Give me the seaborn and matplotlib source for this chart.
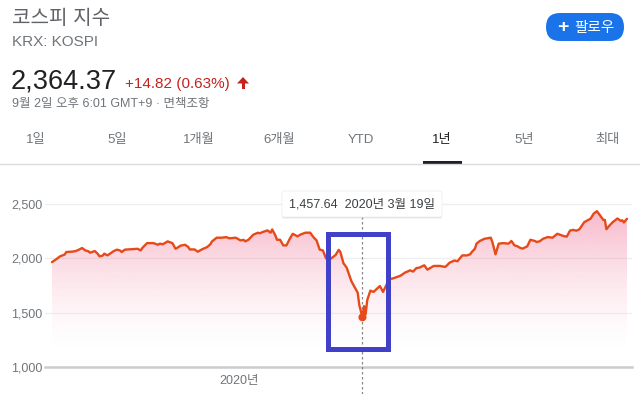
import numpy as np
import pandas as pd
import matplotlib
matplotlib.use("Agg")
import matplotlib.pyplot as plt
import matplotlib.dates as mdates
import seaborn as sns
from matplotlib.patches import FancyBboxPatch, Rectangle, Polygon

# ---------------- data ----------------
dates = [
    "2019-09-05", "2019-09-08", "2019-09-10", "2019-09-13", "2019-09-14", "2019-09-18",
    "2019-09-20", "2019-09-22", "2019-09-24", "2019-09-26", "2019-09-28", "2019-09-29",
    "2019-10-02", "2019-10-04", "2019-10-05", "2019-10-07", "2019-10-08", "2019-10-10",
    "2019-10-14", "2019-10-16", "2019-10-18", "2019-10-19", "2019-10-21", "2019-10-24",
    "2019-10-26", "2019-10-29", "2019-10-31", "2019-11-01", "2019-11-04", "2019-11-08",
    "2019-11-11", "2019-11-12", "2019-11-14", "2019-11-17", "2019-11-20", "2019-11-22",
    "2019-11-24", "2019-11-25", "2019-11-28", "2019-11-30", "2019-12-01", "2019-12-04",
    "2019-12-06", "2019-12-09", "2019-12-12", "2019-12-14", "2019-12-15", "2019-12-18",
    "2019-12-21", "2019-12-24", "2019-12-26", "2019-12-30", "2020-01-02", "2020-01-04",
    "2020-01-05", "2020-01-07", "2020-01-10", "2020-01-13", "2020-01-14", "2020-01-16",
    "2020-01-19", "2020-01-21", "2020-01-22", "2020-01-24", "2020-01-25", "2020-01-27",
    "2020-01-29", "2020-01-31", "2020-02-02", "2020-02-04", "2020-02-07", "2020-02-09",
    "2020-02-12", "2020-02-15", "2020-02-17", "2020-02-19", "2020-02-21", "2020-02-23",
    "2020-02-25", "2020-02-28", "2020-03-02", "2020-03-04", "2020-03-05", "2020-03-07",
    "2020-03-09", "2020-03-12", "2020-03-16", "2020-03-17", "2020-03-19", "2020-03-20",
    "2020-03-21", "2020-03-22", "2020-03-24", "2020-03-26", "2020-03-28", "2020-03-30",
    "2020-04-01", "2020-04-02", "2020-04-05", "2020-04-07", "2020-04-10", "2020-04-12",
    "2020-04-15", "2020-04-17", "2020-04-18", "2020-04-20", "2020-04-22", "2020-04-24",
    "2020-04-27", "2020-04-29", "2020-05-03", "2020-05-07", "2020-05-10", "2020-05-11",
    "2020-05-13", "2020-05-16", "2020-05-18", "2020-05-21", "2020-05-24", "2020-05-26",
    "2020-05-27", "2020-05-29", "2020-05-30", "2020-06-01", "2020-06-04", "2020-06-08",
    "2020-06-09", "2020-06-11", "2020-06-13", "2020-06-16", "2020-06-19", "2020-06-20",
    "2020-06-21", "2020-06-23", "2020-06-25", "2020-06-26", "2020-06-28", "2020-07-01",
    "2020-07-03", "2020-07-06", "2020-07-07", "2020-07-09", "2020-07-11", "2020-07-14",
    "2020-07-17", "2020-07-20", "2020-07-24", "2020-07-26", "2020-07-28", "2020-07-30",
    "2020-08-01", "2020-08-03", "2020-08-06", "2020-08-10", "2020-08-12", "2020-08-14",
    "2020-08-16", "2020-08-18", "2020-08-19", "2020-08-20", "2020-08-22", "2020-08-24",
    "2020-08-27", "2020-08-29", "2020-08-30", "2020-08-31", "2020-09-02",
]
values = [
    1965, 1995, 2018, 2035, 2058, 2062,
    2067, 2080, 2095, 2073, 2065, 2052,
    2067, 2040, 2018, 2025, 2043, 2027,
    2067, 2080, 2072, 2058, 2080, 2083,
    2085, 2088, 2073, 2095, 2140, 2140,
    2125, 2135, 2130, 2156, 2140, 2088,
    2105, 2116, 2125, 2105, 2082, 2082,
    2061, 2085, 2104, 2130, 2156, 2190,
    2190, 2195, 2184, 2190, 2165, 2170,
    2156, 2171, 2217, 2236, 2230, 2242,
    2257, 2236, 2266, 2211, 2171, 2171,
    2119, 2119, 2177, 2226, 2202, 2220,
    2236, 2236, 2196, 2165, 2080, 2073,
    2000, 1997, 2030, 2078, 2060, 1955,
    1915, 1790, 1683, 1570, 1457.64, 1560,
    1485, 1615, 1703, 1691, 1718, 1745,
    1691, 1722, 1810, 1814, 1829, 1840,
    1870, 1882, 1890, 1878, 1910, 1915,
    1936, 1896, 1930, 1930, 1921, 1930,
    1960, 1980, 1973, 2027, 2027, 2037,
    2058, 2089, 2135, 2159, 2180, 2190,
    2150, 2037, 2135, 2140, 2135, 2145,
    2160, 2119, 2110, 2100, 2089, 2110,
    2171, 2159, 2150, 2158, 2180, 2196,
    2190, 2226, 2205, 2200, 2255, 2262,
    2254, 2268, 2333, 2365, 2412, 2434,
    2395, 2354, 2354, 2268, 2303, 2333,
    2367, 2345, 2350, 2330, 2364.37,
]
y_ticks = [1000, 1500, 2000, 2500]
y_tick_labels = ["1,000", "1,500", "2,000", "2,500"]
x_tick_dates = ["2020-01-01"]
x_tick_labels = ["2020년"]
highlight_date = "2020-03-19"
highlight_value = 1457.64
tabs = ["1일", "5일", "1개월", "6개월", "YTD", "1년", "5년", "최대"]
selected_tab = "1년"

# ---------------- style ----------------
sns.set_style("white")
plt.rcParams['font.family'] = ['Liberation Sans', 'Noto Sans CJK KR', 'DejaVu Sans']

W, H = 640, 394
fig = plt.figure(figsize=(W / 100, H / 100), dpi=100)

LINE = "#e64a19"
GRAY = "#70757a"

# main axes: x 45..632 px, y 180..367 px
ax = fig.add_axes([45 / W, 1 - 367 / H, (632 - 45) / W, (367 - 180) / H])
df = pd.DataFrame({"date": pd.to_datetime(dates), "value": values})

sns.lineplot(data=df, x="date", y="value", color=LINE, linewidth=1.7, ax=ax, zorder=4)

ytop = 1000 + 187 * (500 / 54.33)
start, end = df["date"].iloc[0], df["date"].iloc[-1]
dpp = (end - start).days / 575.0
xl = (start - pd.Timedelta(days=7 * dpp), end + pd.Timedelta(days=5 * dpp))
x0n, x1n = mdates.date2num(xl[0]), mdates.date2num(xl[1])

# gradient fill under line
poly = ax.fill_between(df["date"], df["value"], 1000, facecolor="none", edgecolor="none")
gy = np.linspace(ytop, 1000, 400)
alpha = 0.62 * np.clip((gy - 1150) / (2434 - 1150), 0, None) ** 1.5
alpha = np.clip(alpha, 0, 0.7)
rgba = np.zeros((400, 1, 4))
rgba[..., 0] = 244 / 255
rgba[..., 1] = 143 / 255
rgba[..., 2] = 172 / 255
rgba[:, 0, 3] = alpha
im = ax.imshow(rgba, extent=[x0n, x1n, 1000, ytop], aspect="auto", origin="upper", zorder=2)
im.set_clip_path(poly.get_paths()[0], ax.transData)

for yv in [1500, 2000, 2500]:
    ax.axhline(yv, color="#eeeeee", lw=0.9, zorder=1)

ax.set_xlim(x0n, x1n)
ax.set_ylim(1000, ytop)
for s in ["top", "right", "left"]:
    ax.spines[s].set_visible(False)
ax.spines["bottom"].set_color("#cccccc")
ax.spines["bottom"].set_linewidth(1.8)
ax.set_yticks(y_ticks)
ax.set_yticklabels(y_tick_labels, color=GRAY, fontsize=9)
ax.set_xticks(pd.to_datetime(x_tick_dates))
ax.set_xticklabels(x_tick_labels, color=GRAY, fontsize=9)
ax.tick_params(axis="y", length=0, pad=2)
ax.tick_params(axis="x", length=4, color="#bbbbbb", width=1, pad=2)
ax.set_xlabel("")
ax.set_ylabel("")

hd = pd.to_datetime(highlight_date)
ax.axvline(hd, ymin=-27 / 187, ymax=(367 - 217) / 187, color="#888888", lw=0.9,
           ls=(0, (2, 2)), clip_on=False, zorder=3)
ax.scatter([hd], [highlight_value], s=34, color=LINE, zorder=5, edgecolor="none")

# overlay in pixel coordinates
ov = fig.add_axes([0, 0, 1, 1], zorder=10)
ov.set_xlim(0, W)
ov.set_ylim(H, 0)
ov.axis("off")

ov.text(12, 18.5, "코스피 지수", fontsize=14.5, color="#5f6368", va="center", ha="left")
ov.text(12, 42, "KRX: KOSPI", fontsize=11, color=GRAY, va="center", ha="left")
ov.text(11, 88, "2,364.37", fontsize=19.5, color="#202124", va="baseline", ha="left")
ov.text(125, 88, "+14.82 (0.63%)", fontsize=11, color="#c5221f", va="baseline", ha="left")
ov.add_patch(Polygon([(237, 83.5), (249, 83.5), (243, 77)], closed=True, color="#c5221f", lw=0))
ov.add_patch(Rectangle((241.5, 83), 3, 6, color="#c5221f", lw=0))
ov.text(12, 104, "9월 2일 오후 6:01 GMT+9 · 면책조항", fontsize=9, color=GRAY, va="center", ha="left")

# follow button
ov.add_patch(FancyBboxPatch((546, 13), 78, 28, boxstyle="round,pad=0,rounding_size=14",
                            facecolor="#1a73e8", edgecolor="none"))
ov.text(562.5, 27, "+", fontsize=14, color="white", va="center", ha="center", fontweight="bold")
ov.text(594.5, 27.5, "팔로우", fontsize=10.5, color="white", va="center", ha="center", fontweight="medium")

# tabs
tab_x = [36, 117, 199, 279, 361, 442, 524, 607]
for t, tx in zip(tabs, tab_x):
    ov.text(tx, 140, t, fontsize=9.5, color="#202124" if t == selected_tab else GRAY,
            va="center", ha="center")
ov.plot([0, W], [163.5, 163.5], color="#dadce0", lw=1)
ov.add_patch(Rectangle((423, 161), 39, 3, color="#202124", lw=0))

# tooltip
ov.add_patch(FancyBboxPatch((282, 192), 160, 26.5, boxstyle="round,pad=0,rounding_size=2",
                            facecolor="#000000", alpha=0.10, edgecolor="none"))
ov.add_patch(FancyBboxPatch((282, 191), 160, 26, boxstyle="round,pad=0,rounding_size=2",
                            facecolor="white", edgecolor="#ececec", lw=0.5))
ov.text(362, 204.5, "1,457.64  2020년 3월 19일", fontsize=9, color="#3c4043",
        va="center", ha="center")

# highlight rectangle
ov.add_patch(Rectangle((328, 234), 60, 115, facecolor="none", edgecolor="#4040c8", lw=3.6))

fig.savefig("out.png", dpi=100)
